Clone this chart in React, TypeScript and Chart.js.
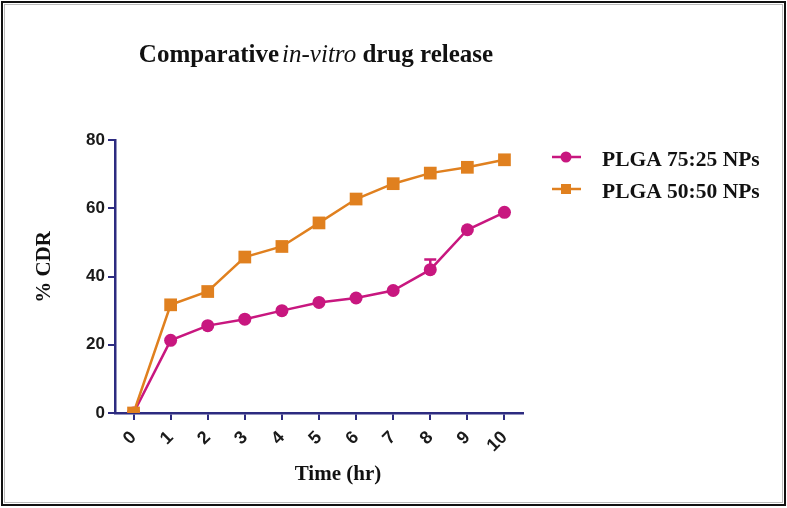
import React, { useEffect, useRef } from "react";
import { Chart, registerables } from "chart.js";

Chart.register(...registerables);

const timeLabels = ["0", "1", "2", "3", "4", "5", "6", "7", "8", "9", "10"];
const plga7525 = [0, 21.3, 25.6, 27.5, 30, 32.4, 33.7, 35.9, 42, 53.7, 58.8];
const plga7525Err = [0, 0, 0, 0, 0, 0, 0, 0, 3, 0, 0];
const plga5050 = [0, 31.7, 35.6, 45.7, 48.8, 55.7, 62.7, 67.2, 70.3, 72, 74.2];
const seriesNames = ["PLGA 75:25 NPs", "PLGA 50:50 NPs"];
const titleParts = ["Comparative", "in-vitro", " drug release"];
const yTitle = "% CDR";
const xTitle = "Time (hr)";

const MAGENTA = "#c8177f";
const ORANGE = "#e0801f";
const AXIS = "#2d2b80";
const SERIF = "'Liberation Serif', 'Times New Roman', serif";
const SANS = "'Liberation Sans', Arial, sans-serif";

const overlayPlugin = {
  id: "overlay",
  afterDatasetsDraw(chart: any) {
    const ctx = chart.ctx;
    const xs = chart.scales.x;
    const ys = chart.scales.y;
    ctx.save();
    ctx.strokeStyle = MAGENTA;
    ctx.lineWidth = 2.5;
    plga7525Err.forEach((e, i) => {
      if (!e) return;
      const x = xs.getPixelForValue(i);
      const y0 = ys.getPixelForValue(plga7525[i]);
      const y1 = ys.getPixelForValue(plga7525[i] + e);
      ctx.beginPath();
      ctx.moveTo(x, y0);
      ctx.lineTo(x, y1);
      ctx.moveTo(x - 6, y1);
      ctx.lineTo(x + 6, y1);
      ctx.stroke();
    });
    ctx.restore();
  },
  afterDraw(chart: any) {
    const ctx = chart.ctx;
    ctx.save();
    ctx.strokeStyle = "#111";
    ctx.lineWidth = 2;
    ctx.strokeRect(2, 2, 783, 503);
    ctx.strokeStyle = "#bbb";
    ctx.lineWidth = 1;
    ctx.strokeRect(4.5, 4.5, 778, 498);

    // title
    ctx.fillStyle = "#111";
    ctx.textBaseline = "alphabetic";
    ctx.textAlign = "left";
    const fonts = [`bold 25px ${SERIF}`, `italic 25px ${SERIF}`, `bold 25px ${SERIF}`];
    const gap = 3;
    let total = gap;
    titleParts.forEach((p, i) => {
      ctx.font = fonts[i];
      total += ctx.measureText(p).width;
    });
    let tx = 316 - total / 2;
    titleParts.forEach((p, i) => {
      ctx.font = fonts[i];
      ctx.fillText(p, tx, 62);
      tx += ctx.measureText(p).width + (i === 0 ? gap : 0);
    });

    // axis titles
    ctx.font = `bold 21px ${SERIF}`;
    ctx.textAlign = "center";
    ctx.textBaseline = "middle";
    ctx.fillText(xTitle, 338, 475);
    ctx.save();
    ctx.translate(45, 267);
    ctx.rotate(-Math.PI / 2);
    ctx.fillText(yTitle, 0, 0);
    ctx.restore();

    // legend
    chart.data.datasets.forEach((ds: any, i: number) => {
      const y = 157 + i * 32;
      ctx.strokeStyle = ds.borderColor;
      ctx.fillStyle = ds.borderColor;
      ctx.lineWidth = 2.5;
      ctx.beginPath();
      ctx.moveTo(552, y);
      ctx.lineTo(581, y);
      ctx.stroke();
      if (ds.pointStyle === "rect") {
        ctx.fillRect(561, y - 5, 10, 10);
      } else {
        ctx.beginPath();
        ctx.arc(566, y, 5.5, 0, Math.PI * 2);
        ctx.fill();
      }
      ctx.fillStyle = "#111";
      ctx.font = `bold 21.5px ${SERIF}`;
      ctx.textAlign = "left";
      ctx.textBaseline = "middle";
      ctx.fillText(ds.label, 602, y + 3);
    });
    ctx.restore();
  },
};

export default function App() {
  const ref = useRef<HTMLCanvasElement | null>(null);
  useEffect(() => {
    if (!ref.current) return;
    const chart = new Chart(ref.current, {
      type: "line",
      data: {
        labels: timeLabels,
        datasets: [
          {
            label: seriesNames[0],
            data: plga7525,
            borderColor: MAGENTA,
            backgroundColor: MAGENTA,
            borderWidth: 2.5,
            pointStyle: "circle",
            pointRadius: 6.5,
            pointBorderWidth: 0,
            order: 2,
          },
          {
            label: seriesNames[1],
            data: plga5050,
            borderColor: ORANGE,
            backgroundColor: ORANGE,
            borderWidth: 2.5,
            pointStyle: "rect",
            pointRadius: 9,
            pointBorderWidth: 0,
            order: 1,
          },
        ],
      },
      options: {
        responsive: false,
        animation: false,
        layout: { padding: { top: 140, right: 264, bottom: 35, left: 0 } },
        plugins: {
          legend: { display: false },
          title: { display: false },
          tooltip: { enabled: false },
        },
        scales: {
          x: {
            type: "category",
            offset: true,
            grid: {
              offset: false,
              drawOnChartArea: false,
              drawTicks: true,
              tickLength: 7,
              color: AXIS,
              lineWidth: 2,
            },
            border: { display: true, color: AXIS, width: 2.5 },
            ticks: {
              autoSkip: false,
              minRotation: 45,
              maxRotation: 45,
              padding: 7,
              color: "#1a1a1a",
              font: { family: SANS, size: 18, weight: "bold" },
            },
            afterFit: (s: any) => {
              s.height = 60;
            },
          },
          y: {
            min: 0,
            max: 80,
            ticks: {
              stepSize: 20,
              padding: 3,
              color: "#1a1a1a",
              font: { family: SANS, size: 17, weight: "bold" },
            },
            grid: {
              drawOnChartArea: false,
              drawTicks: true,
              tickLength: 7,
              color: AXIS,
              lineWidth: 2,
            },
            border: { display: true, color: AXIS, width: 2.5 },
            afterFit: (s: any) => {
              s.width = 115;
            },
          },
        },
      },
      plugins: [overlayPlugin],
    });
    return () => chart.destroy();
  }, []);
  return (
    <div style={{ position: "absolute", left: 0, top: 0, width: 787, height: 508, background: "#fff" }}>
      <canvas ref={ref} width={787} height={508} style={{ display: "block" }} />
    </div>
  );
}
